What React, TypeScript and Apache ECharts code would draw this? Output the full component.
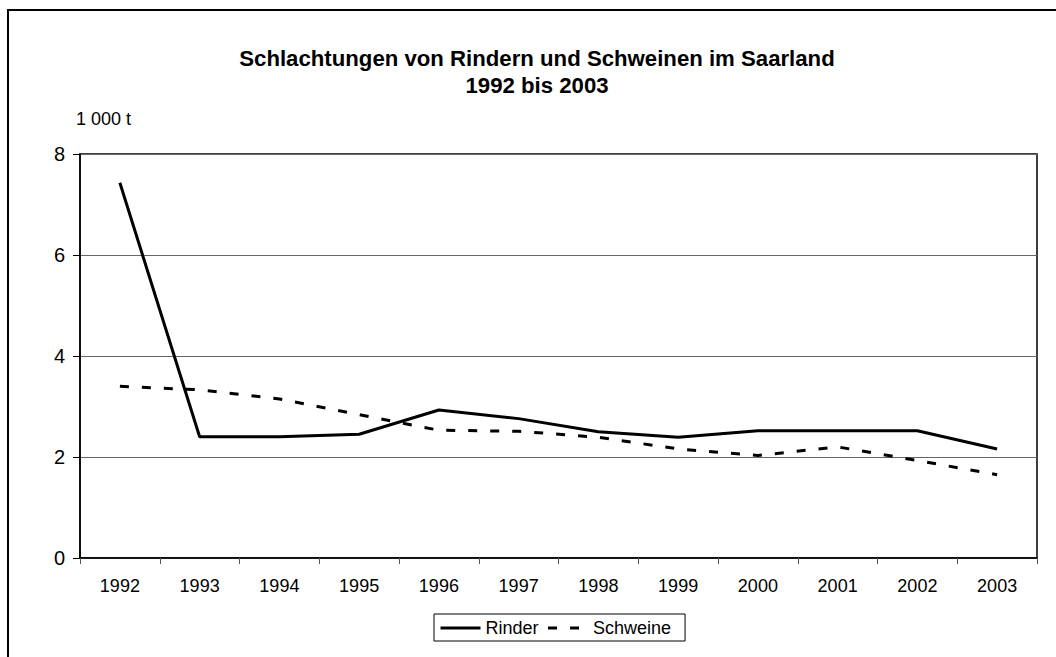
import React, { useEffect, useRef } from "react";
import * as echarts from "echarts";

const years = ["1992", "1993", "1994", "1995", "1996", "1997", "1998", "1999", "2000", "2001", "2002", "2003"];
const rinder = [7.43, 2.4, 2.4, 2.45, 2.93, 2.76, 2.5, 2.39, 2.52, 2.52, 2.52, 2.16];
const schweine = [3.4, 3.33, 3.15, 2.84, 2.53, 2.51, 2.39, 2.16, 2.03, 2.2, 1.93, 1.65];
const titleText = "Schlachtungen von Rindern und Schweinen im Saarland\n1992 bis 2003";
const unitLabel = "1 000 t";

const FONT = "'Liberation Sans', Arial, sans-serif";

export default function App() {
  const ref = useRef<HTMLDivElement>(null);
  useEffect(() => {
    if (!ref.current) return;
    const chart = echarts.init(ref.current, undefined, { renderer: "svg" });
    chart.setOption({
      animation: false,
      backgroundColor: "#fff",
      textStyle: { fontFamily: FONT },
      title: {
        text: titleText,
        left: 532,
        textAlign: "center",
        top: 40,
        textStyle: { fontFamily: FONT, fontSize: 22.2, fontWeight: "bold", color: "#000", lineHeight: 27 },
      },
      graphic: [
        {
          type: "rect",
          shape: { x: 8, y: 10, width: 1200, height: 800 },
          style: { fill: "none", stroke: "#000", lineWidth: 2 },
          silent: true,
        },
      ],
      legend: {
        left: 434,
        top: 614,
        itemWidth: 40,
        itemHeight: 14,
        itemGap: 8,
        padding: [5, 14, 4, 5],
        borderColor: "#000",
        borderWidth: 1,
        itemStyle: { opacity: 0 },
        lineStyle: { width: 3 },
        textStyle: { fontFamily: FONT, fontSize: 18, color: "#000" },
        data: ["Rinder", "Schweine"],
      },
      grid: {
        left: 80,
        right: 19,
        top: 154,
        bottom: 99,
        show: true,
        borderColor: "#000",
        borderWidth: 1.5,
        backgroundColor: "transparent",
      },
      xAxis: {
        type: "category",
        data: years,
        boundaryGap: true,
        axisLine: { lineStyle: { color: "#000", width: 1.5 } },
        axisTick: { show: true, alignWithLabel: false, length: 6, lineStyle: { color: "#555" } },
        axisLabel: { color: "#000", fontSize: 18, fontFamily: FONT, margin: 19 },
        splitLine: { show: false },
      },
      yAxis: {
        type: "value",
        min: 0,
        max: 8,
        interval: 2,
        name: unitLabel,
        nameLocation: "end",
        nameGap: 26,
        nameTextStyle: { color: "#000", fontSize: 18, fontFamily: FONT, align: "left", padding: [0, 0, 0, -4] },
        axisLine: { show: true, lineStyle: { color: "#000", width: 1.5 } },
        axisTick: { show: true, length: 7, lineStyle: { color: "#000" } },
        axisLabel: { color: "#000", fontSize: 20, fontFamily: FONT, margin: 15 },
        splitLine: { show: true, lineStyle: { color: "#666", width: 1 } },
      },
      series: [
        {
          name: "Rinder",
          type: "line",
          data: rinder,
          symbol: "none",
          color: "#000",
          lineStyle: { color: "#000", width: 3 },
        },
        {
          name: "Schweine",
          type: "line",
          data: schweine,
          symbol: "none",
          color: "#000",
          lineStyle: { color: "#000", width: 3, type: [9, 13] },
        },
      ],
    });
    return () => chart.dispose();
  }, []);
  return <div ref={ref} style={{ position: "fixed", left: 0, top: 0, width: 1056, height: 657 }} />;
}
